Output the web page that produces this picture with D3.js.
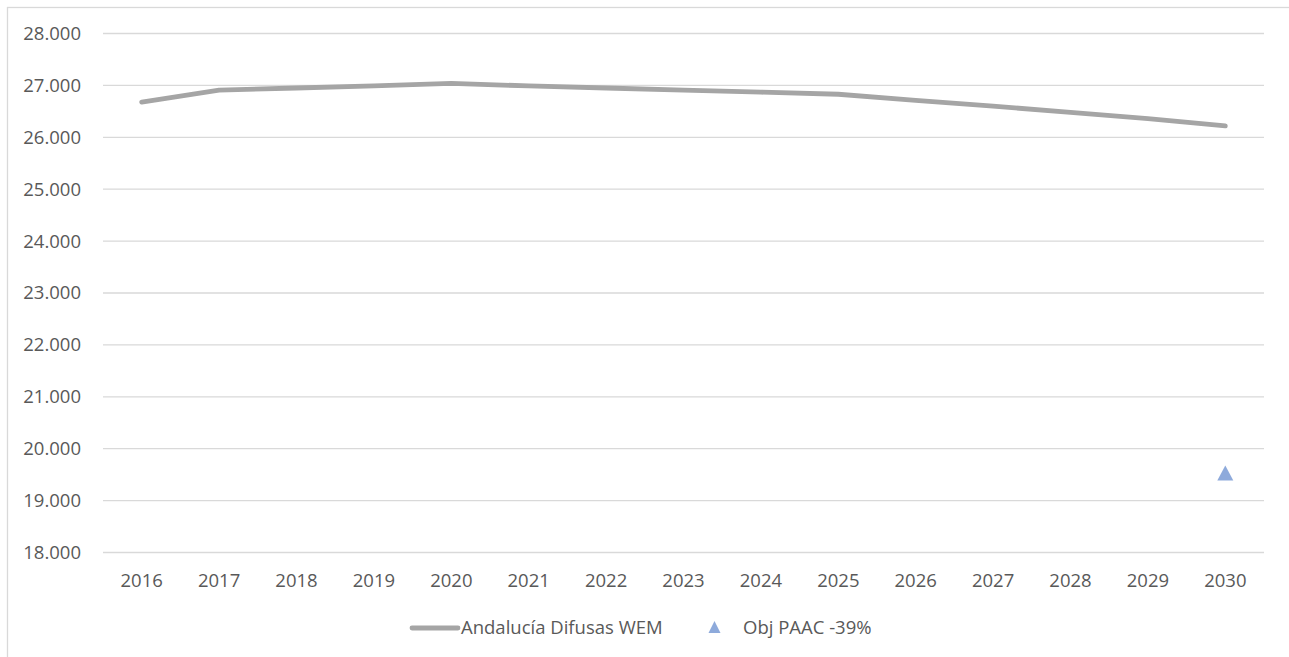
<!DOCTYPE html>
<html><head><meta charset="utf-8">
<script src="https://cdn.jsdelivr.net/npm/d3@7"></script>
<style>body{margin:0;background:#fff;} text{font-family:"Open Sans","Liberation Sans",sans-serif;}</style>
</head><body><svg id="c" width="1289" height="657"></svg>
<script>
const years = ["2016","2017","2018","2019","2020","2021","2022","2023","2024","2025","2026","2027","2028","2029","2030"];
const wem = [26670,26900,26940,26980,27030,26980,26940,26900,26860,26820,26700,26590,26470,26350,26210];
const objYear = "2030";
const objValue = 19520;
const yTicks = [18000,19000,20000,21000,22000,23000,24000,25000,26000,27000,28000];
const seriesNames = ["Andalucía Difusas WEM","Obj PAAC -39%"];

const FS = "18.5px";
const svg = d3.select("#c");
svg.append("rect").attr("x",7.5).attr("y",7.5).attr("width",1300).attr("height",700)
  .attr("fill","none").attr("stroke","#d9d9d9").attr("stroke-width",1.3);

const x = d3.scaleBand().domain(years).range([103,1264]);
const y = d3.scaleLinear().domain([18000,28000]).range([552,33]);
const fmt = v => d3.format(",.3f")(v/1000).replace(",","");

const ga = svg.append("g").attr("transform","translate(103,0)")
  .call(d3.axisLeft(y).tickValues(yTicks).tickSize(-1161).tickFormat(v=>fmt(v)).tickPadding(22));
ga.select(".domain").remove();
ga.selectAll("line").attr("stroke","#d9d9d9").attr("stroke-width",1.3);
ga.selectAll("text").attr("fill","#595959").style("font-size",FS).attr("dy","0.35em");

const gx = svg.append("g").attr("transform","translate(0,552)")
  .call(d3.axisBottom(x).tickSize(0));
gx.select(".domain").remove();
gx.selectAll("text").attr("fill","#595959").style("font-size",FS).attr("y",35).attr("dy","0");

const line = d3.line().x((d,i)=>x(years[i])+x.bandwidth()/2).y(d=>y(d));
svg.append("path").datum(wem).attr("d",line).attr("fill","none")
  .attr("stroke","#a5a5a5").attr("stroke-width",4.8).attr("stroke-linecap","round").attr("stroke-linejoin","round");

const triPath = (w,h) => `M0,${-h/2}L${w/2},${h/2}L${-w/2},${h/2}Z`;
svg.append("path").attr("d",triPath(16,15)).attr("fill","#8eaadb")
  .attr("transform",`translate(${x(objYear)+x.bandwidth()/2},${y(objValue)})`);

// legend
const lg = svg.append("g");
lg.append("line").attr("x1",412).attr("x2",458).attr("y1",628).attr("y2",628)
  .attr("stroke","#a5a5a5").attr("stroke-width",4.8).attr("stroke-linecap","round");
lg.append("text").attr("x",461).attr("y",634).text(seriesNames[0]).attr("fill","#595959").style("font-size",FS);
lg.append("path").attr("d",triPath(12,12)).attr("fill","#8eaadb")
  .attr("transform","translate(714.5,627)");
lg.append("text").attr("x",743).attr("y",634).text(seriesNames[1]).attr("fill","#595959").style("font-size",FS);
</script></body></html>
